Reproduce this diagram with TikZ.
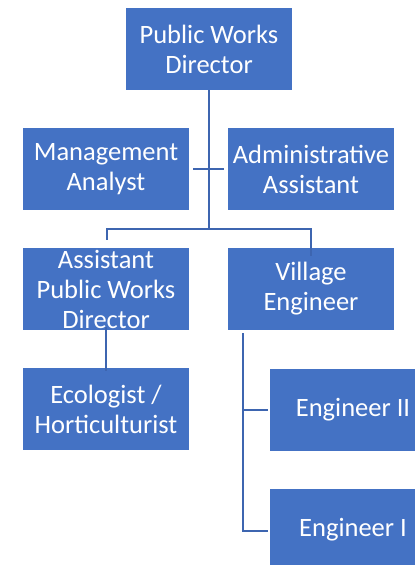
\documentclass[tikz,border=0pt]{standalone}
\usepackage{fontspec}
\setmainfont{Carlito}
\definecolor{boxblue}{HTML}{4472C4}
\definecolor{lineblue}{HTML}{3D65B0}
\begin{document}
\begin{tikzpicture}[x=1pt,y=-1pt,
  orgbox/.style={fill=boxblue,draw=none,minimum width=166pt,minimum height=82pt,
    text=white,align=center,inner sep=0pt,font=\fontsize{26.5}{30}\selectfont},
  conn/.style={draw=lineblue,line width=2.8pt}]
\useasboundingbox (0,0) rectangle (415,565);
\node[orgbox] (pwd) at (209,49) {Public Works\\Director};
\node[orgbox] (ma) at (106,169) {Management\\Analyst};
\node[orgbox] (aa) at (311,169) {Administrative\\Assistant};
\node[orgbox] (apwd) at (106,289) {Assistant\\Public Works\\Director};
\node[orgbox] (ve) at (311,289) {Village\\Engineer};
\node[orgbox] (eco) at (106,409) {Ecologist /\\Horticulturist};
\node[orgbox] (e2) at (353,409.5) {Engineer II};
\node[orgbox] (e1) at (353,530) {Engineer I};
\coordinate (j) at (209,229);
\coordinate (vtop) at (243,333);
\coordinate (v2) at (243,410);
\coordinate (v1) at (243,531);
\draw[conn] (pwd.south) -- (j);
\draw[conn] (ma.east) ++(4,0) -- ([xshift=-4pt]aa.west);
\draw[conn] (apwd.north) ++(1,-8) |- (j) -| ([yshift=-8pt]ve.north);
\draw[conn] ([yshift=3pt]apwd.south) -- ([yshift=-3pt]eco.north);
\draw[conn] (vtop) -- (v1) -- ([xshift=-2pt]e1.west|-v1);
\draw[conn] (v2) -- ([xshift=-2pt]e2.west|-v2);
\end{tikzpicture}
\end{document}
